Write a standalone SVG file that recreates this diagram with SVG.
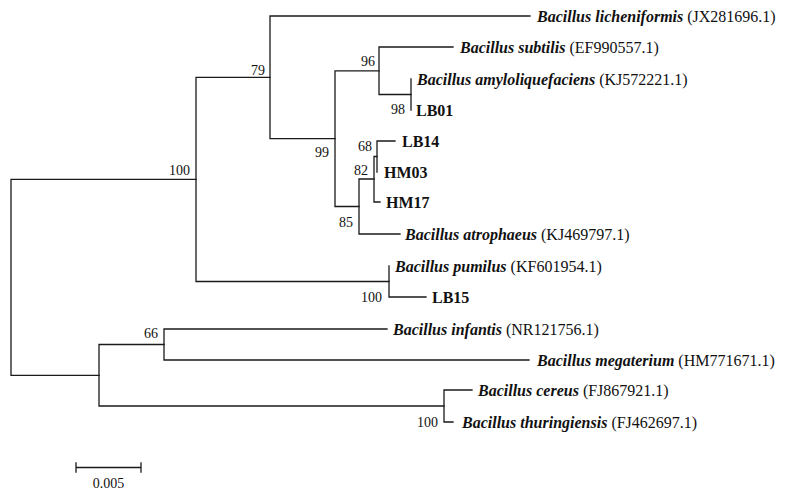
<svg xmlns="http://www.w3.org/2000/svg" width="789" height="499" viewBox="0 0 789 499">
<style>
.br{fill:none;stroke:#1a1a1a;stroke-width:1.3;stroke-linecap:square}
.tx{font-family:"Liberation Serif","Times New Roman",serif;font-size:16px;fill:#111}
.sp{font-weight:bold;font-style:italic}
.id{font-weight:normal;font-style:normal}
.lb{font-weight:bold}
.bs{font-family:"Liberation Serif","Times New Roman",serif;font-size:14px;fill:#111;text-anchor:end}
</style>
<rect width="789" height="499" fill="#fff"/>
<g id="connectors" class="br">
<path d="M11,179.4V375.3M11,179.4H196M11,375.3H99"/>
<path d="M196,77.3V281.5M196,77.3H270M196,281.5H389"/>
<path d="M270,16V138.6M270,16H530M270,138.6H335"/>
<path d="M335,70.8V206.5M335,70.8H379M335,206.5H359"/>
<path d="M379,47V94.5M379,47H453M379,94.5H411"/>
<path d="M411,79V110"/>
<path d="M359,179V234M359,179H374M359,234H400"/>
<path d="M374,156.5V202M374,156.5H377M374,202H380"/>
<path d="M377,141V172M377,141H395"/>
<path d="M389,266V297M389,297H426"/>
<path d="M99,344.5V406M99,344.5H164M99,406H444"/>
<path d="M164,329V360M164,329H387M164,360H529"/>
<path d="M444,390V422M444,390H472M444,422H453"/>
</g>
<g id="n_root"><text class="bs" x="190" y="175">100</text></g>
<g id="n79"><text class="bs" x="265" y="75">79</text></g>
<g id="n96"><text class="bs" x="375" y="66">96</text></g>
<g id="n98"><text class="bs" x="405" y="114">98</text></g>
<g id="n99"><text class="bs" x="329" y="157">99</text></g>
<g id="n68"><text class="bs" x="372" y="151">68</text></g>
<g id="n82"><text class="bs" x="368" y="175">82</text></g>
<g id="n85"><text class="bs" x="353" y="227">85</text></g>
<g id="n_pum"><text class="bs" x="382" y="302">100</text></g>
<g id="n66"><text class="bs" x="158" y="338">66</text></g>
<g id="n_cer"><text class="bs" x="438" y="427">100</text></g>
<g id="leaf_lich"><text class="tx" x="537" y="21.5"><tspan class="sp">Bacillus licheniformis</tspan> <tspan class="id">(JX281696.1)</tspan></text></g>
<g id="leaf_subtilis"><text class="tx" x="460" y="52.5"><tspan class="sp">Bacillus subtilis</tspan> <tspan class="id">(EF990557.1)</tspan></text></g>
<g id="leaf_amylo"><text class="tx" x="417" y="84.5"><tspan class="sp">Bacillus amyloliquefaciens</tspan> <tspan class="id">(KJ572221.1)</tspan></text></g>
<g id="leaf_LB01"><text class="tx lb" x="416" y="115.5">LB01</text></g>
<g id="leaf_LB14"><text class="tx lb" x="402" y="146.5">LB14</text></g>
<g id="leaf_HM03"><text class="tx lb" x="384" y="177.5">HM03</text></g>
<g id="leaf_HM17"><text class="tx lb" x="386" y="207.5">HM17</text></g>
<g id="leaf_atro"><text class="tx" x="405" y="239.5"><tspan class="sp">Bacillus atrophaeus</tspan> <tspan class="id">(KJ469797.1)</tspan></text></g>
<g id="leaf_pumilus"><text class="tx" x="395" y="271.5"><tspan class="sp">Bacillus pumilus</tspan> <tspan class="id">(KF601954.1)</tspan></text></g>
<g id="leaf_LB15"><text class="tx lb" x="432" y="302.5">LB15</text></g>
<g id="leaf_infantis"><text class="tx" x="393" y="334.5"><tspan class="sp">Bacillus infantis</tspan> <tspan class="id">(NR121756.1)</tspan></text></g>
<g id="leaf_mega"><text class="tx" x="537" y="365.5"><tspan class="sp">Bacillus megaterium</tspan> <tspan class="id">(HM771671.1)</tspan></text></g>
<g id="leaf_cereus"><text class="tx" x="478" y="395.5"><tspan class="sp">Bacillus cereus</tspan> <tspan class="id">(FJ867921.1)</tspan></text></g>
<g id="leaf_thur"><text class="tx" x="462" y="427.5"><tspan class="sp">Bacillus thuringiensis</tspan> <tspan class="id">(FJ462697.1)</tspan></text></g>
<g id="scale">
<path class="br" d="M76,467.5H141M76,463V472M141,463V472"/>
<text class="bs" x="108.5" y="488" style="text-anchor:middle">0.005</text>
</g>
</svg>
